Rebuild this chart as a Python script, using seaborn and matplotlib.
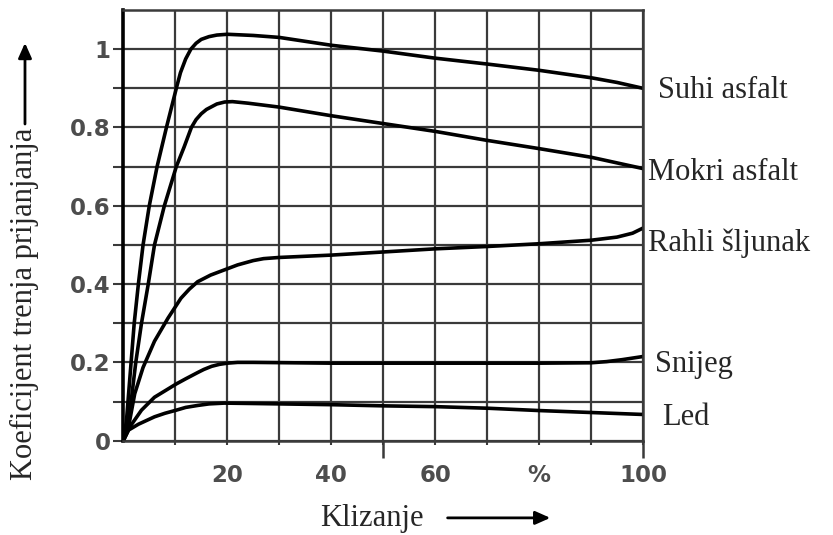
import matplotlib
matplotlib.use("Agg")
import matplotlib.pyplot as plt
import seaborn as sns
import pandas as pd

# ---- data ----
suhi_x = [0, 0.6, 1.5, 2.1, 2.9, 3.8, 5.0, 6.5, 8.3, 10.2, 11, 12, 13, 14, 15, 16.5, 18, 20, 25, 30, 40, 50, 60, 70, 80, 90, 95, 100]
suhi_y = [0, 0.05, 0.2, 0.3, 0.4, 0.5, 0.6, 0.7, 0.8, 0.9, 0.94, 0.975, 1.0, 1.015, 1.025, 1.032, 1.036, 1.038, 1.035, 1.03, 1.01, 0.995, 0.977, 0.962, 0.946, 0.927, 0.915, 0.9]

mokri_x = [0, 0.6, 1.5, 2.4, 3.5, 4.8, 6.0, 7.9, 10.2, 11.7, 13.1, 14, 15, 16, 18, 19.5, 21, 24, 30, 40, 50, 60, 70, 80, 90, 100]
mokri_y = [0, 0.03, 0.1, 0.2, 0.3, 0.4, 0.5, 0.6, 0.7, 0.75, 0.8, 0.82, 0.835, 0.846, 0.86, 0.865, 0.866, 0.862, 0.852, 0.83, 0.81, 0.79, 0.767, 0.746, 0.724, 0.695]

rahli_x = [0, 1.0, 2.2, 3.8, 6.0, 8.6, 11.1, 12.7, 14.3, 16.8, 19.4, 22, 25, 27, 30, 40, 50, 60, 70, 80, 90, 95, 98, 100]
rahli_y = [0, 0.035, 0.12, 0.187, 0.254, 0.313, 0.364, 0.387, 0.406, 0.423, 0.436, 0.449, 0.46, 0.465, 0.468, 0.474, 0.482, 0.49, 0.496, 0.503, 0.512, 0.52, 0.53, 0.543]

snijeg_x = [0, 1.3, 3.5, 6.0, 10.2, 12, 14.3, 15.5, 17, 18.5, 20, 22, 25, 40, 60, 80, 90, 93, 96, 100]
snijeg_y = [0, 0.036, 0.078, 0.111, 0.145, 0.158, 0.174, 0.182, 0.19, 0.195, 0.198, 0.2, 0.2, 0.198, 0.198, 0.198, 0.199, 0.202, 0.207, 0.215]

led_x = [0, 1.0, 2.9, 6.0, 8.0, 10.2, 12, 14.3, 16.5, 19.4, 25, 30, 40, 50, 60, 70, 80, 90, 100]
led_y = [0, 0.027, 0.042, 0.061, 0.07, 0.078, 0.085, 0.09, 0.094, 0.096, 0.095, 0.094, 0.092, 0.089, 0.087, 0.083, 0.077, 0.072, 0.067]

series_names = ["Suhi asfalt", "Mokri asfalt", "Rahli šljunak", "Snijeg", "Led"]
series_x = [suhi_x, mokri_x, rahli_x, snijeg_x, led_x]
series_y = [suhi_y, mokri_y, rahli_y, snijeg_y, led_y]

x_tick_vals = [20, 40, 60, 80, 100]
x_tick_labels = ["20", "40", "60", "%", "100"]
y_tick_vals = [0, 0.2, 0.4, 0.6, 0.8, 1.0]
y_tick_labels = ["0", "0.2", "0.4", "0.6", "0.8", "1"]

frames = []
for name, xs, ys in zip(series_names, series_x, series_y):
    frames.append(pd.DataFrame({"x": xs, "y": ys, "s": name}))
df = pd.concat(frames, ignore_index=True)

# ---- figure ----
sns.set_style("white")
fig = plt.figure(figsize=(8.33, 5.35), dpi=100)
ax = fig.add_axes([123.3 / 833, 1 - 440.7 / 535, (643 - 123.3) / 833, (440.7 - 10) / 535])

sns.lineplot(data=df, x="x", y="y", hue="s", palette=["black"] * 5,
             legend=False, ax=ax, linewidth=2.6, sort=False, estimator=None)

ax.set_xlim(0, 100)
ax.set_ylim(0, 1.1)
ax.set_xlabel("")
ax.set_ylabel("")

grid_col = "#3a3a3a"
ax.set_xticks(x_tick_vals, labels=x_tick_labels)
ax.set_xticks([10, 30, 50, 70, 90], minor=True)
ax.set_yticks(y_tick_vals, labels=y_tick_labels)
ax.set_yticks([0.1, 0.3, 0.5, 0.7, 0.9], minor=True)
ax.grid(True, which="both", color=grid_col, linewidth=1.6)
ax.set_axisbelow(True)

for sp in ax.spines.values():
    sp.set_visible(True)
    sp.set_color(grid_col)
    sp.set_linewidth(1.8)
ax.spines["left"].set_color("black")
ax.spines["left"].set_linewidth(2.6)

ax.tick_params(axis="y", which="both", left=True, length=7, width=1.5,
               color=grid_col, pad=2, labelcolor="#4d4d4d")
ax.tick_params(axis="x", which="both", bottom=True, length=3, width=1.5,
               color=grid_col, pad=14, labelcolor="#4d4d4d")
for lab in ax.get_xticklabels() + ax.get_yticklabels():
    lab.set_fontfamily("DejaVu Sans")
    lab.set_fontweight("bold")
    lab.set_fontsize(16.5)

sec = ax.secondary_xaxis("bottom")
sec.set_xticks([50, 100], labels=["", ""])
sec.tick_params(length=12, width=1.8, color=grid_col)
for sp in sec.spines.values():
    sp.set_visible(False)

# curve labels
serif = "Liberation Serif"
label_pos = {
    "Suhi asfalt": (102.9, 0.895),
    "Mokri asfalt": (100.9, 0.685),
    "Rahli šljunak": (100.9, 0.505),
    "Snijeg": (102.3, 0.195),
    "Led": (103.6, 0.06),
}
for name in series_names:
    lx, ly = label_pos[name]
    ax.text(lx, ly, name, family=serif, fontsize=22, va="center", ha="left",
            clip_on=False)

# axis labels with arrows
fig.text(0.030, 0.432, "Koeficijent trenja prijanjanja", family=serif, fontsize=22,
         rotation=90, ha="center", va="center")
fig.text(0.447, 0.030, "Klizanje", family=serif, fontsize=22, ha="center", va="center")

arrow_kw = dict(arrowstyle="-|>,head_length=0.9,head_width=0.4", color="black", lw=2)
ax.annotate("", xy=(0.030, 0.925), xytext=(0.030, 0.763),
            xycoords="figure fraction", textcoords="figure fraction",
            arrowprops=arrow_kw, annotation_clip=False)
ax.annotate("", xy=(0.664, 0.032), xytext=(0.534, 0.032),
            xycoords="figure fraction", textcoords="figure fraction",
            arrowprops=arrow_kw, annotation_clip=False)

fig.savefig("out.png", dpi=100)
